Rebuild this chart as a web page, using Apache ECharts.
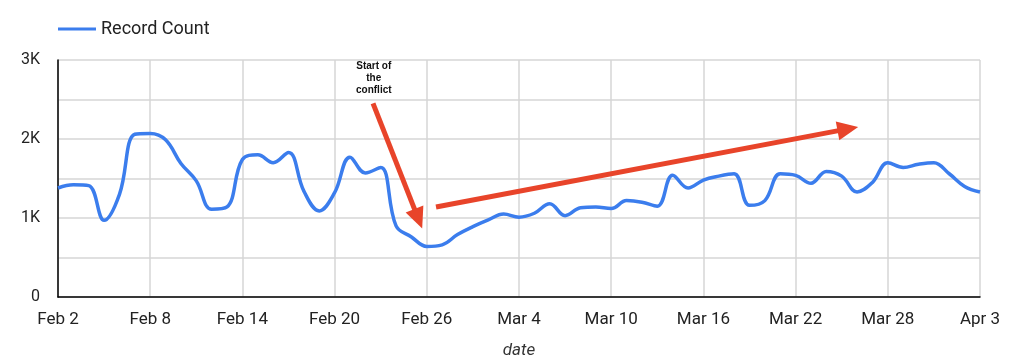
<!DOCTYPE html>
<html>
<head>
<meta charset="utf-8">
<script src="https://cdn.jsdelivr.net/npm/echarts@6/dist/echarts.min.js"></script>
<style>html,body{margin:0;padding:0;background:#fff}#c{width:1024px;height:359px}</style>
</head>
<body>
<div id="c"></div>
<script>
// Tick labels every 6 days (index 0 = Feb 2, index 60 = Apr 3)
const tickLabels = ['Feb 2','Feb 8','Feb 14','Feb 20','Feb 26','Mar 4','Mar 10','Mar 16','Mar 22','Mar 28','Apr 3'];
// Daily record counts, Feb 2 .. Apr 3
const recordCount = [
  1380,1420,1410,970,1300,2060,2070,1990,1690,1470,
  1110,1140,1740,1800,1700,1830,1340,1090,1320,1770,
  1570,1640,900,760,640,660,790,890,975,1050,
  1010,1060,1180,1030,1130,1140,1120,1220,1200,1150,
  1540,1380,1480,1530,1560,1160,1220,1560,1540,1440,
  1590,1530,1330,1450,1700,1640,1680,1700,1560,1400,
  1330
];
// Annotation arrows: [dayIndex, value] start -> end
const arrow1 = [[20.5, 2450], [23.45, 990]];
const arrow2 = [[24.6, 1140], [51.4, 2128]];
const noteText = 'Start of\nthe\nconflict';
const notePos = [20.55, 2772];

const points = recordCount.map((v, i) => [i, v]);
const chart = echarts.init(document.getElementById('c'));
const red = '#e8442a';
const blue = '#3b7ded';
chart.setOption({
  animation: false,
  textStyle: { fontFamily: 'Roboto' },
  legend: {
    left: 53, top: 15, itemWidth: 38, itemHeight: 3, itemGap: 7,
    textStyle: { fontSize: 18, color: '#222', fontFamily: 'Roboto' },
    data: [{ name: 'Record Count', icon: 'rect' }]
  },
  grid: { left: 58, right: 44, top: 60, bottom: 62, containLabel: false, outerBoundsMode: 'none' },
  xAxis: {
    type: 'value', min: 0, max: 60, interval: 6,
    name: 'date', nameLocation: 'middle', nameGap: 45,
    nameTextStyle: { fontSize: 17, fontStyle: 'italic', color: '#333', fontFamily: 'Roboto' },
    axisLine: { show: true, lineStyle: { color: '#000', width: 1.5 } },
    axisTick: { show: false },
    splitLine: { show: true, lineStyle: { color: '#d6d6d6', width: 1.5 } },
    axisLabel: { fontSize: 17, color: '#222', margin: 14, formatter: v => tickLabels[Math.round(v / 6)] || '' }
  },
  yAxis: {
    type: 'value', min: 0, max: 3000, interval: 500,
    axisLine: { show: true, lineStyle: { color: '#000', width: 1.5 } },
    axisTick: { show: false },
    splitLine: { show: true, lineStyle: { color: '#d6d6d6', width: 1.5 } },
    axisLabel: { fontSize: 16, color: '#222', margin: 18, formatter: v => v % 1000 === 0 ? (v === 0 ? '0' : (v / 1000) + 'K') : '' }
  },
  series: [{
    name: 'Record Count', type: 'line', data: points,
    smooth: 0.4, symbol: 'none',
    lineStyle: { color: blue, width: 3.5 },
    itemStyle: { color: blue },
    markLine: {
      silent: true, animation: false,
      symbol: ['none', 'triangle'], symbolSize: [19, 21],
      lineStyle: { color: red, width: 5, type: 'solid' },
      itemStyle: { color: red },
      label: { show: false },
      emphasis: { disabled: true },
      data: [
        [{ coord: arrow1[0] }, { coord: arrow1[1] }],
        [{ coord: arrow2[0] }, { coord: arrow2[1] }]
      ]
    },
    markPoint: {
      silent: true, symbol: 'circle', symbolSize: 1,
      itemStyle: { color: 'rgba(0,0,0,0)' },
      label: { show: true, position: 'inside', formatter: noteText, fontSize: 10, fontWeight: 'bold', color: '#111', fontFamily: 'Liberation Sans', lineHeight: 12, align: 'center', verticalAlign: 'middle' },
      data: [{ coord: notePos }]
    }
  }]
});
</script>
</body>
</html>
